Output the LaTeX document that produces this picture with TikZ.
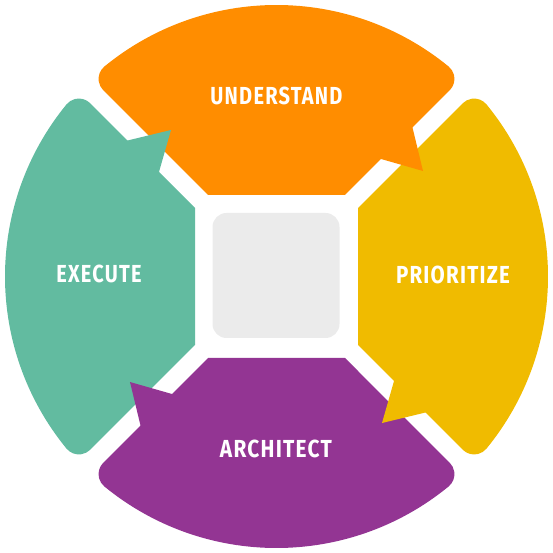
\documentclass[tikz,border=0pt]{standalone}
\usepackage{fontspec}
\setmainfont{Fira Sans}
\newfontfamily\labelfont[LetterSpace=6]{Fira Sans}
\usepackage{graphicx}

\definecolor{cOrange}{HTML}{FF8D00}
\definecolor{cYellow}{HTML}{F0BB00}
\definecolor{cPurple}{HTML}{933593}
\definecolor{cGreen}{HTML}{62BBA0}
\definecolor{cCore}{HTML}{EBEBEB}

% bold label squeezed to a fixed width and cap height
\newcommand\seglabel[2]{\resizebox{#1pt}{17.5pt}{\labelfont\bfseries #2}}

\tikzset{
  label text/.style={text=white, inner sep=0pt},
  core box/.style={fill=cCore, rounded corners=14pt, minimum width=127pt, minimum height=125pt, inner sep=0pt}
}

\begin{document}
\begin{tikzpicture}[x=1pt,y=1pt]
\useasboundingbox (-276.5,-276.5) rectangle (276.5,276.5);

% four ring segments: one body shape, turned clockwise a quarter each time
\foreach \ang/\col in {0/cOrange,-90/cYellow,180/cPurple,90/cGreen}{
  \fill[\col, rotate=\ang]
    (68.5,81.5) -- (173.28,186.29)
    arc[start angle=-45, end angle=50.66, radius=16]
    arc[start angle=50.66, end angle=129.34, radius=271.5]
    arc[start angle=129.34, end angle=225, radius=16]
    -- (-68.5,81.5) -- cycle;
}

% speech-bubble tails pointing clockwise into the next segment
\foreach \ang/\col in {0/cOrange,-90/cYellow,180/cPurple,90/cGreen}{
  \fill[\col, rotate=\ang]
    (133.9,157.7) -- (146.5,105.5) -- (96.1,119.9) -- cycle;
}

\node[core box] (core) at (-0.5,1) {};

\node[label text] (understand) at (0,180.5) {\seglabel{132}{UNDERSTAND}};
\node[label text] (prioritize) at (176.5,1.5) {\seglabel{114}{PRIORITIZE}};
\node[label text] (architect) at (-0.5,-172.5) {\seglabel{112}{ARCHITECT}};
\node[label text] (execute) at (-177.5,2.5) {\seglabel{85}{EXECUTE}};
\end{tikzpicture}
\end{document}
